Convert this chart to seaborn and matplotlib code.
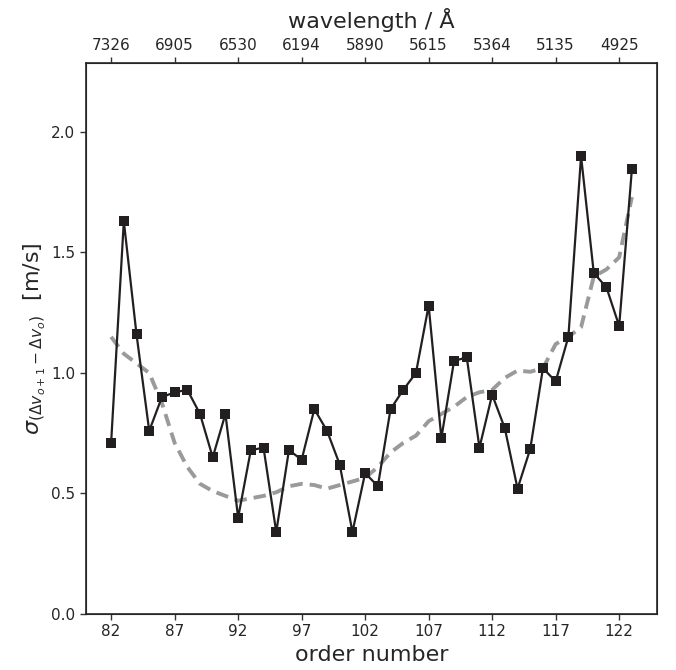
import numpy as np
import pandas as pd
import matplotlib
matplotlib.use("Agg")
import matplotlib.pyplot as plt
import seaborn as sns

# order numbers and measured scatter per order
orders = list(range(82, 124))
sigma = [0.71, 1.63, 1.16, 0.76, 0.90, 0.92, 0.93, 0.83, 0.65, 0.83,
         0.40, 0.68, 0.69, 0.34, 0.68, 0.64, 0.85, 0.76, 0.62, 0.34,
         0.585, 0.53, 0.85, 0.93, 1.00, 1.28, 0.73, 1.05, 1.065, 0.69,
         0.91, 0.77, 0.52, 0.685, 1.02, 0.965, 1.15, 1.90, 1.415, 1.355,
         1.195, 1.845]
# expected (photon noise) curve
expected = [1.15, 1.08, 1.04, 1.00, 0.875, 0.71, 0.61, 0.54, 0.51, 0.49,
            0.47, 0.48, 0.49, 0.505, 0.53, 0.54, 0.535, 0.52, 0.535, 0.55,
            0.565, 0.61, 0.67, 0.71, 0.74, 0.80, 0.83, 0.86, 0.90, 0.92,
            0.93, 0.98, 1.01, 1.005, 1.02, 1.12, 1.15, 1.19, 1.40, 1.43,
            1.48, 1.73]

tick_orders = [82, 87, 92, 97, 102, 107, 112, 117, 122]
wavelengths = ["7326", "6905", "6530", "6194", "5890", "5615", "5364", "5135", "4925"]

df = pd.DataFrame({"order": orders, "sigma": sigma, "expected": expected})

sns.set_style("ticks")
plt.rcParams["font.family"] = ["DejaVu Sans"]

fig = plt.figure(figsize=(6.76, 6.70), dpi=100)
ax = fig.add_axes([0.1268, 0.0836, 0.8455, 0.8219])

sns.lineplot(data=df, x="order", y="expected", ax=ax, color="#9a9a9a",
             lw=2.8, linestyle=(0, (3.2, 1.8)))
sns.lineplot(data=df, x="order", y="sigma", ax=ax, color="#231f20",
             lw=1.6, marker="s", markersize=6.5, markeredgewidth=0)

ax.set_xlim(80, 125)
ax.set_ylim(0, 2.285)
ax.set_xticks(tick_orders)
ax.set_yticks([0.0, 0.5, 1.0, 1.5, 2.0])
ax.tick_params(labelsize=11, length=4, width=1, color="#333333", labelcolor="#262626")
for s in ax.spines.values():
    s.set_linewidth(1.2)
    s.set_color("#262626")

ax.set_xlabel("order number", fontsize=16, color="#262626")
ax.set_ylabel(r"$\sigma_{(\Delta v_{o+1}-\Delta v_o)}$  [m/s]", fontsize=16,
              color="#262626", labelpad=2)

top = ax.twiny()
top.set_xlim(ax.get_xlim())
top.set_xticks(tick_orders)
top.set_xticklabels(wavelengths)
top.tick_params(labelsize=11, length=4, width=1, color="#333333", labelcolor="#262626")
top.set_xlabel("wavelength / Å", fontsize=16, color="#262626", labelpad=7)

fig.savefig("out.png", dpi=100)
